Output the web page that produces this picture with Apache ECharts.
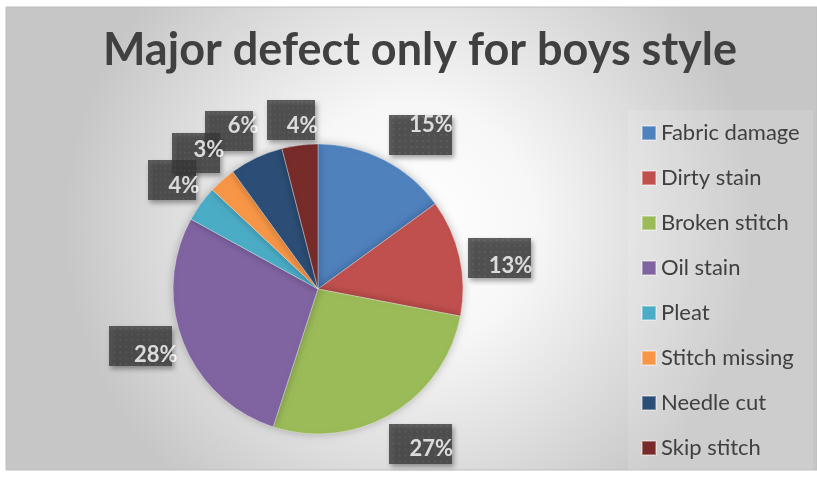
<!DOCTYPE html>
<html>
<head>
<meta charset="utf-8">
<script src="https://cdn.jsdelivr.net/npm/echarts@6/dist/echarts.min.js"></script>
<style>
  html, body { margin: 0; padding: 0; background: #ffffff; }
  #chart { width: 817px; height: 485px; }
</style>
</head>
<body>
<div id="chart"></div>
<script>
// Defect categories and their share (%) of major defects
const categories = ['Fabric damage', 'Dirty stain', 'Broken stitch', 'Oil stain',
                    'Pleat', 'Stitch missing', 'Needle cut', 'Skip stitch'];
const shares = [15, 13, 27, 28, 4, 3, 6, 4];
const sliceColors = ['#4F81BD', '#C0504D', '#9BBB59', '#8064A2',
                     '#4BACC6', '#F79646', '#2C4D75', '#772C2A'];

// Callout styling: box size, and nudges of the box and of its text
const calloutBoxSize = [[63, 40], [63, 40], [63, 40], [63, 40],
                        [48, 40], [48, 40], [48, 40], [48, 40]];
const calloutBoxNudge = [[19, 9], [3, 9], [9, -3], [-7, -10], [2, -1], [-1, 1], [-11, 8], [-4, 13]];
const calloutTextNudge = [[30, -1], [14, 17], [20, 2], [8, -1], [14, 4], [12, -2], [3, 2], [7, 18]];

// Dark dotted texture used behind the percentage labels
function makeTexture(w, h) {
  const c = document.createElement('canvas');
  c.width = w; c.height = h;
  const g = c.getContext('2d');
  g.fillStyle = '#3b3b3b';
  g.fillRect(0, 0, w, h);
  g.fillStyle = '#4a4a4a';
  for (let y = 2; y < h; y += 6) {
    for (let x = (y / 6) % 2 ? 5 : 2; x < w; x += 6) {
      g.beginPath(); g.arc(x, y, 1.2, 0, Math.PI * 2); g.fill();
    }
  }
  return c;
}
const texture = makeTexture(64, 40);

// Middle of each slice, in percent of the full turn, for placing its callout
const sliceMids = [];
shares.reduce((start, v) => { sliceMids.push(start + v / 2); return start + v; }, 0);

const pieCenter = [318, 289];
const pieRadius = 145;
const calloutRadius = 183;

const hiddenAxis = {
  axisLine: { show: false }, axisTick: { show: false },
  axisLabel: { show: false }, splitLine: { show: false }
};

const chart = echarts.init(document.getElementById('chart'), null, { renderer: 'canvas' });

chart.setOption({
  animation: false,
  title: {
    text: 'Major defect only for boys style',
    left: 415, top: 23, textAlign: 'center',
    textStyle: { fontFamily: 'Lato', fontWeight: 'bold', fontSize: 45, color: '#404040' }
  },
  graphic: [
    {
      type: 'rect', z: -10, silent: true,
      shape: { x: 6, y: 7, width: 811, height: 463 },
      style: {
        fill: {
          type: 'radial', x: 0.5, y: 0.47, r: 0.75,
          colorStops: [
            { offset: 0, color: '#ffffff' },
            { offset: 0.35, color: '#f7f7f7' },
            { offset: 1, color: '#c6c6c6' }
          ]
        },
        stroke: '#bdbdbd', lineWidth: 1
      }
    },
    {
      type: 'rect', z: -9, silent: true,
      shape: { x: 628, y: 110, width: 185, height: 360 },
      style: { fill: 'rgba(255,255,255,0.12)' }
    }
  ],
  legend: {
    orient: 'vertical',
    left: 641, top: 122,
    padding: 0,
    itemWidth: 14, itemHeight: 14, itemGap: 23,
    icon: 'rect',
    data: categories,
    textStyle: { fontFamily: 'Lato', fontSize: 22, lineHeight: 20, color: '#404040' }
  },
  polar: { center: pieCenter, radius: calloutRadius },
  angleAxis: Object.assign({ type: 'value', min: 0, max: 100, startAngle: 90, clockwise: true }, hiddenAxis),
  radiusAxis: Object.assign({ type: 'value', min: 0, max: 1 }, hiddenAxis),
  series: [
    {
      type: 'pie',
      name: 'Major defect',
      center: pieCenter,
      radius: pieRadius,
      startAngle: 90,
      clockwise: true,
      label: { show: false },
      labelLine: { show: false },
      itemStyle: {
        borderColor: 'rgba(255,255,255,0.35)', borderWidth: 1,
        shadowBlur: 8, shadowColor: 'rgba(0,0,0,0.25)'
      },
      data: categories.map((name, i) => ({
        name, value: shares[i], itemStyle: { color: sliceColors[i] }
      }))
    },
    {
      // textured callout boxes just outside each slice
      type: 'scatter',
      name: 'Callout boxes',
      coordinateSystem: 'polar',
      silent: true,
      z: 5,
      symbolSize: 1,
      itemStyle: { color: 'rgba(0,0,0,0)' },
      label: {
        show: true,
        position: 'inside',
        formatter: () => ' ',
        padding: 0,
        backgroundColor: { image: texture },
        shadowBlur: 5, shadowColor: 'rgba(0,0,0,0.45)', shadowOffsetX: 2, shadowOffsetY: 3
      },
      data: sliceMids.map((mid, i) => ({
        value: [1, mid],
        label: {
          width: calloutBoxSize[i][0], height: calloutBoxSize[i][1],
          offset: calloutBoxNudge[i]
        }
      }))
    },
    {
      // percentage text drawn above all the boxes
      type: 'scatter',
      name: 'Callout text',
      coordinateSystem: 'polar',
      silent: true,
      z: 6,
      symbolSize: 1,
      itemStyle: { color: 'rgba(0,0,0,0)' },
      label: {
        show: true,
        position: 'inside',
        formatter: p => shares[p.dataIndex] + '%',
        fontFamily: 'Lato', fontWeight: 'bold', fontSize: 22,
        color: '#ffffff'
      },
      data: sliceMids.map((mid, i) => ({
        value: [1, mid],
        label: { offset: calloutTextNudge[i] }
      }))
    }
  ]
});
</script>
</body>
</html>
